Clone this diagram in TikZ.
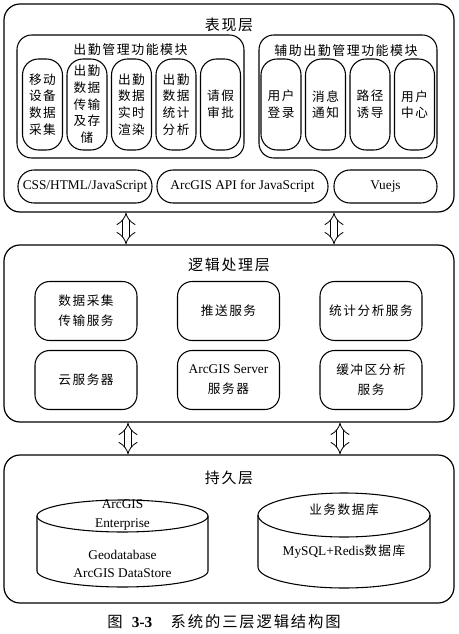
\documentclass[tikz,border=0pt]{standalone}
\usepackage{fontspec}
\setmainfont{Liberation Serif}
\newfontfamily\cjk[LetterSpace=12]{Noto Sans CJK SC}
\usetikzlibrary{arrows.meta}

\newcommand\px{0.75pt}

\tikzset{
  layer/.style={draw, line width=0.9pt, rounded corners=12pt, minimum width=450*\px, inner sep=0pt},
  module/.style={draw, line width=0.8pt, rounded corners=11pt, minimum height=123*\px, inner sep=0pt},
  pill/.style={draw, line width=0.8pt, rounded corners=12pt, minimum width=40*\px, minimum height=91*\px,
    inner sep=0pt, align=center, font=\cjk\fontsize{9.5}{12.5}\selectfont},
  tech/.style={draw, line width=0.8pt, rounded corners=12pt, minimum height=33*\px, inner sep=0pt,
    font=\fontsize{10}{12}\selectfont},
  service/.style={draw, line width=0.8pt, rounded corners=11pt, minimum width=102*\px, minimum height=59*\px,
    inner sep=0pt, align=center, font=\cjk\fontsize{9.5}{15}\selectfont},
  ttl/.style={font=\cjk\fontsize{11.2}{15}\selectfont, inner sep=0pt},
  mttl/.style={font=\cjk\fontsize{9.7}{13}\selectfont, inner sep=0pt},
  dbtxt/.style={align=center, inner sep=0pt, font=\fontsize{10}{14}\selectfont},
  link/.style={double, double distance=4.5pt, line width=0.6pt, {Implies}-{Implies}},
}

\begin{document}
\begin{tikzpicture}[x=0.75pt, y=-0.75pt]
  \useasboundingbox (0,0) rectangle (459,634);

  % presentation layer
  \node[layer, minimum height=208*\px] (pres) at (229,108) {};
  \node[ttl] (presT) at (229,25) {表现层};

  \node[module, minimum width=227*\px] (modA) at (130.5,96.5) {};
  \node[mttl] (modAT) at (130.5,50) {出勤管理功能模块};
  \node[pill] (pA1) at (42.5,104.5) {移动\\设备\\数据\\采集};
  \node[pill] (pA2) at (87,104.5) {出勤\\数据\\传输\\及存\\储};
  \node[pill] (pA3) at (131.5,104.5) {出勤\\数据\\实时\\渲染};
  \node[pill] (pA4) at (176,104.5) {出勤\\数据\\统计\\分析};
  \node[pill] (pA5) at (220.5,104.5) {请假\\审批};

  \node[module, minimum width=178*\px] (modB) at (348,96.5) {};
  \node[mttl] (modBT) at (346,51) {辅助出勤管理功能模块};
  \node[pill] (pB1) at (281,104.5) {用户\\登录};
  \node[pill] (pB2) at (325.5,104.5) {消息\\通知};
  \node[pill] (pB3) at (370,104.5) {路径\\诱导};
  \node[pill] (pB4) at (414.5,104.5) {用户\\中心};

  \node[tech, minimum width=134*\px] (css) at (85,186.5) {CSS/HTML/JavaScript};
  \node[tech, minimum width=171*\px] (api) at (242.5,186.5) {ArcGIS API for JavaScript};
  \node[tech, minimum width=103*\px] (vue) at (385.5,186.5) {Vuejs};

  % logic layer
  \node[layer, minimum height=177*\px] (logic) at (229,333.5) {};
  \node[ttl] (logicT) at (229,265) {逻辑处理层};
  \node[service] (s1) at (86,311) {数据采集\\传输服务};
  \node[service] (s2) at (228.5,311) {推送服务};
  \node[service] (s3) at (371,311) {统计分析服务};
  \node[service] (s4) at (86,380) {云服务器};
  \node[service] (s5) at (228.5,380) {{\rmfamily\fontsize{10}{15}\selectfont ArcGIS Server}\\服务器};
  \node[service] (s6) at (371,380) {缓冲区分析\\服务};

  % persistence layer
  \node[layer, minimum height=148*\px] (store) at (229,529) {};
  \node[ttl] (storeT) at (229,478) {持久层};

  \draw[line width=0.8pt] (122.5,516) ellipse (85.5 and 16);
  \draw[line width=0.8pt] (37,516) -- (37,571)
    arc[start angle=180, end angle=0, x radius=85.5, y radius=16] -- (208,516);
  \node[dbtxt] (gisTop) at (122.5,515) {ArcGIS\\Enterprise};
  \node[dbtxt] (gisDb) at (122.5,564) {Geodatabase\\ArcGIS DataStore};

  \draw[line width=0.8pt] (344,515) ellipse (86 and 22);
  \draw[line width=0.8pt] (258,515) -- (258,567)
    arc[start angle=180, end angle=0, x radius=86, y radius=21] -- (430,515);
  \node[font=\cjk\fontsize{9.5}{13}\selectfont, inner sep=0pt] (bizTop) at (344,510) {业务数据库};
  \node[font=\cjk\fontsize{9.5}{13}\selectfont, inner sep=0pt] (bizDb) at (344,552)
    {{\rmfamily\fontsize{10}{13}\selectfont MySQL+Redis}数据库};

  % links between layers
  \coordinate (a1) at (126,0);
  \coordinate (a2) at (334,0);
  \coordinate (a3) at (128,0);
  \coordinate (a4) at (340,0);
  \draw[link] (a1 |- pres.south) -- (a1 |- logic.north);
  \draw[link] (a2 |- pres.south) -- (a2 |- logic.north);
  \draw[link] (a3 |- logic.south) -- (a3 |- store.north);
  \draw[link] (a4 |- logic.south) -- (a4 |- store.north);

  \node[font=\cjk\fontsize{11.5}{15}\selectfont, inner sep=0pt] (cap) at (224,622)
    {图\hspace{0.6em}{\rmfamily\bfseries 3-3}\hspace{1.2em}系统的三层逻辑结构图};
\end{tikzpicture}
\end{document}
